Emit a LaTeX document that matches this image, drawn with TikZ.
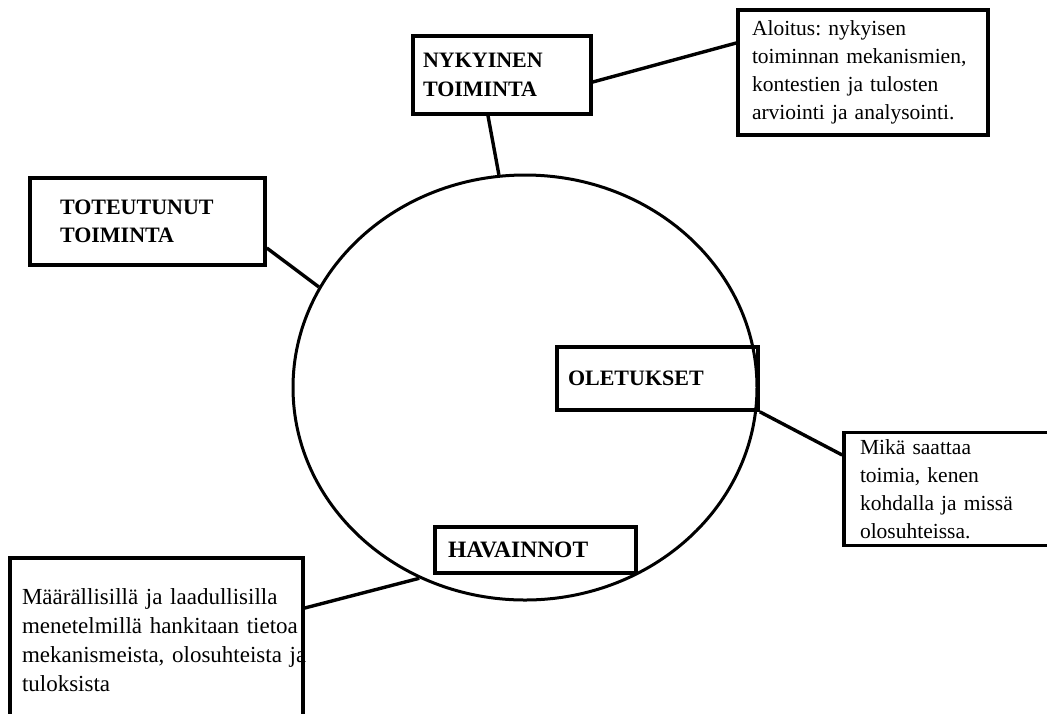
\documentclass[tikz,border=0pt]{standalone}
\usepackage{fontspec}
\setmainfont{Liberation Serif}
\usetikzlibrary{shapes.geometric}
\begin{document}
\frenchspacing
\begin{tikzpicture}[x=1pt,y=-1pt,
  box/.style={draw=black, line width=3.6pt, rectangle, inner ysep=0pt,
    align=left, font=\fontsize{21.5}{28.5}\selectfont},
  head/.style={box, font=\fontsize{22}{28.5}\selectfont\bfseries},
  conn/.style={draw=black, line width=3.4pt},
  ring/.style={draw=black, line width=3pt, ellipse, inner sep=0pt}]
\useasboundingbox (0,0) rectangle (1047,713);
\clip (0,0) rectangle (1047,713);
\fill[white] (0,0) rectangle (1047,713);

\node[ring, minimum width=464pt, minimum height=425pt] (c) at (525,387.5) {};

\node[head, minimum width=178pt, minimum height=78pt, text width=158pt, inner xsep=10pt] (nyk) at (502,75) {NYKYINEN\\TOIMINTA};
\node[box, minimum width=250pt, minimum height=125pt, text width=222pt, inner xsep=14pt, font=\fontsize{21.5}{28}\selectfont] (alo) at (863,72.5) {Aloitus: nykyisen\\toiminnan mekanismien,\\kontestien ja tulosten\\arviointi ja analysointi.};
\node[head, minimum width=235pt, minimum height=87pt, text width=175pt, inner xsep=30pt] (tot) at (147.5,221.5) {TOTEUTUNUT\\TOIMINTA};
\node[head, minimum width=201pt, minimum height=63pt, text width=179pt, inner xsep=11pt] (ole) at (657.5,378.5) {OLETUKSET};
\node[box, minimum width=211pt, minimum height=113pt, text width=179pt, inner xsep=16pt, font=\fontsize{21.5}{28}\selectfont] (mika) at (949.5,489) {Mikä saattaa\\toimia, kenen\\kohdalla ja missä\\olosuhteissa.};
\node[head, minimum width=201pt, minimum height=46pt, text width=175pt, inner xsep=13pt, font=\fontsize{23.5}{28.5}\selectfont\bfseries] (hav) at (535.5,550) {HAVAINNOT};
\node[box, minimum width=293pt, minimum height=164pt, text width=269pt, inner xsep=12pt, font=\fontsize{23}{29}\selectfont] (maa) at (156.5,640) {\mbox{Määrällisillä ja laadullisilla}\\\mbox{menetelmillä hankitaan tietoa}\\\mbox{mekanismeista, olosuhteista ja}\\\mbox{tuloksista}};

\draw[conn] ([xshift=-14pt]nyk.south) -- (c.97.5);
\draw[conn] ([yshift=-7pt]nyk.east) -- ([yshift=29.5pt]alo.west);
\draw[conn] ([yshift=-26.5pt]tot.east) -- (c.154.8);
\draw[conn] (ole.south east) -- ([yshift=34pt]mika.west);
\draw[conn] ([yshift=32pt]maa.east) -- (c.241.7);
\end{tikzpicture}
\end{document}
